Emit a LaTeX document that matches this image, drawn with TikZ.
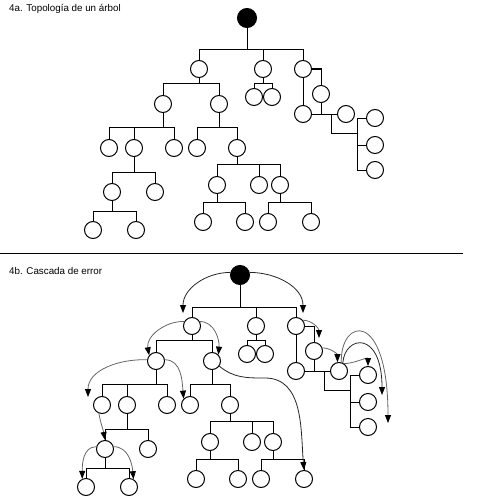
\documentclass[tikz,border=0pt]{standalone}
\usepackage{fontspec}
\setmainfont{Liberation Sans}
\usetikzlibrary{arrows.meta}
\tikzset{
  leaf/.style={circle,draw,line width=1pt,minimum size=17pt,inner sep=0pt},
  rootnode/.style={circle,draw,fill=black,line width=1pt,minimum size=19pt,inner sep=0pt},
  edge/.style={line width=1pt},
  title/.style={anchor=base west,inner sep=0pt,font=\fontsize{9.8}{12}\selectfont},
  casc/.style={line width=0.8pt,draw=black!85,-{Triangle[length=8pt,width=6pt,color=black]}},
  cascg/.style={line width=0.8pt,draw=black!60,-{Triangle[length=8pt,width=6pt,color=black]}}
}
\newcommand\mytree[1]{%
  \node[rootnode] (#1r) at (247,18) {};
  \node[leaf] (#1a) at (199,69) {};
  \node[leaf] (#1b) at (263,69) {};
  \node[leaf] (#1c) at (303,69) {};
  \node[leaf] (#1a1) at (163,104) {};
  \node[leaf] (#1a2) at (219,104) {};
  \node[leaf] (#1b1) at (254,97) {};
  \node[leaf] (#1b2) at (272,97) {};
  \node[leaf] (#1d) at (321,94) {};
  \node[leaf] (#1c1) at (303,114) {};
  \node[leaf] (#1e) at (346,114) {};
  \node[leaf] (#1f1) at (375,118) {};
  \node[leaf] (#1f2) at (375,145) {};
  \node[leaf] (#1f3) at (375,170) {};
  \node[leaf] (#1a11) at (109,148) {};
  \node[leaf] (#1a12) at (134,148) {};
  \node[leaf] (#1a13) at (174,148) {};
  \node[leaf] (#1a21) at (197,148) {};
  \node[leaf] (#1a22) at (237,148) {};
  \node[leaf] (#1a121) at (112,192) {};
  \node[leaf] (#1a122) at (155,192) {};
  \node[leaf] (#1a1211) at (93,230) {};
  \node[leaf] (#1a1212) at (136,230) {};
  \node[leaf] (#1a221) at (217,185) {};
  \node[leaf] (#1a222) at (259,185) {};
  \node[leaf] (#1a223) at (280,185) {};
  \node[leaf] (#1a2211) at (203,222) {};
  \node[leaf] (#1a2212) at (245,222) {};
  \node[leaf] (#1a2231) at (268,222) {};
  \node[leaf] (#1a2232) at (311,222) {};
  % bars
  \coordinate (#1rb) at (247,50);
  \draw[edge] (#1r) -- (#1rb);
  \draw[edge] (#1rb) -| (#1a);
  \draw[edge] (#1rb) -| (#1b);
  \draw[edge] (#1rb) -| (#1c);
  \coordinate (#1ab) at (199,83);
  \draw[edge] (#1a) -- (#1ab);
  \draw[edge] (#1ab) -| (#1a1);
  \draw[edge] (#1ab) -| (#1a2);
  \coordinate (#1bb) at (263,83);
  \draw[edge] (#1b) -- (#1bb);
  \draw[edge] (#1bb) -| (#1b1);
  \draw[edge] (#1bb) -| (#1b2);
  \draw[edge] (#1c) -- (#1c1);
  \draw[edge] (#1c) -| (#1d);
  \draw[edge] (#1c1) -- (#1e);
  \draw[edge] (#1d) -- (#1d |- #1e);
  \coordinate (#1j) at (331,114);
  \coordinate (#1k) at (357,133);
  \coordinate (#1kt) at (357,118);
  \coordinate (#1kb) at (357,170);
  \draw[edge] (#1j) |- (#1k);
  \draw[edge] (#1kt) -- (#1kb);
  \draw[edge] (#1kt) -- (#1f1);
  \draw[edge] (#1k |- #1f2) -- (#1f2);
  \draw[edge] (#1kb) -- (#1f3);
  \coordinate (#1a1b) at (163,127);
  \draw[edge] (#1a1) -- (#1a1b);
  \draw[edge] (#1a1b) -| (#1a11);
  \draw[edge] (#1a1b) -| (#1a12);
  \draw[edge] (#1a1b) -| (#1a13);
  \coordinate (#1a2b) at (219,127);
  \draw[edge] (#1a2) -- (#1a2b);
  \draw[edge] (#1a2b) -| (#1a21);
  \draw[edge] (#1a2b) -| (#1a22);
  \coordinate (#1a12b) at (134,172);
  \draw[edge] (#1a12) -- (#1a12b);
  \draw[edge] (#1a12b) -| (#1a121);
  \draw[edge] (#1a12b) -| (#1a122);
  \coordinate (#1a121b) at (112,211);
  \draw[edge] (#1a121) -- (#1a121b);
  \draw[edge] (#1a121b) -| (#1a1211);
  \draw[edge] (#1a121b) -| (#1a1212);
  \coordinate (#1a22b) at (237,164);
  \draw[edge] (#1a22) -- (#1a22b);
  \draw[edge] (#1a22b) -| (#1a221);
  \draw[edge] (#1a22b) -| (#1a222);
  \draw[edge] (#1a22b) -| (#1a223);
  \coordinate (#1a221b) at (217,202);
  \draw[edge] (#1a221) -- (#1a221b);
  \draw[edge] (#1a221b) -| (#1a2211);
  \draw[edge] (#1a221b) -| (#1a2212);
  \coordinate (#1a223b) at (280,202);
  \draw[edge] (#1a223) -- (#1a223b);
  \draw[edge] (#1a223b) -| (#1a2231);
  \draw[edge] (#1a223b) -| (#1a2232);
}
\begin{document}
\begin{tikzpicture}[x=1pt,y=-1pt]
  \useasboundingbox (0,0) rectangle (479,503);
  \node[title] (t1) at (9,12) {4a. Topología de un árbol};
  \mytree{A}
  \coordinate (sepL) at (0,253);
  \coordinate (sepR) at (463,253);
  \draw[line width=1pt] (sepL) -- (sepR);
  \node[title] (t2) at (9,274) {4b. Cascada de error};
  \begin{scope}[shift={(-7,257)}]
    \mytree{B}
    \coordinate (rl) at (190,56);
    \coordinate (rr) at (310,56);
    \coordinate (t5) at (95,140);
    \coordinate (m7) at (272,121);
    \coordinate (t11) at (326,81);
    \coordinate (t13b) at (389,138);
    \coordinate (t13c) at (395,166);
    \draw[casc] (Br.165) to[out=180,in=90] (rl);
    \draw[casc] (Br.15) to[out=0,in=90] (rr);
    \draw[cascg] (Ba.150) to[out=178,in=100] (Ba1.140);
    \draw[cascg] (Ba.30) to[out=0,in=85] (Ba2.45);
    \draw[cascg] (Ba1.172) to[out=178,in=90] (t5);
    \draw[cascg] (Ba1.8) to[out=0,in=95] (Ba21.135);
    \draw[casc] (Ba2.-35) to[out=-40,in=180] (m7) to[out=0,in=95] (Ba2232.north);
    \draw[cascg] (Ba11.250) to[out=-80,in=100] (Ba121.north);
    \draw[cascg] (Ba121.165) to[out=180,in=90] (Ba1211.115);
    \draw[cascg] (Ba121.15) to[out=0,in=95] (Ba1212.60);
    \draw[cascg] (Bc.40) to[out=0,in=90] (t11);
    \draw[cascg] (Bd.20) to[out=0,in=90] (Be.100);
    \draw[cascg] (Be.55) to[out=0,in=90] (Bf1.north);
    \draw[casc] (Be.65) .. controls (352,78) and (389,73) .. (t13b);
    \draw[cascg] (Be.75) .. controls (347,61) and (395,51) .. (t13c);
  \end{scope}
\end{tikzpicture}
\end{document}
